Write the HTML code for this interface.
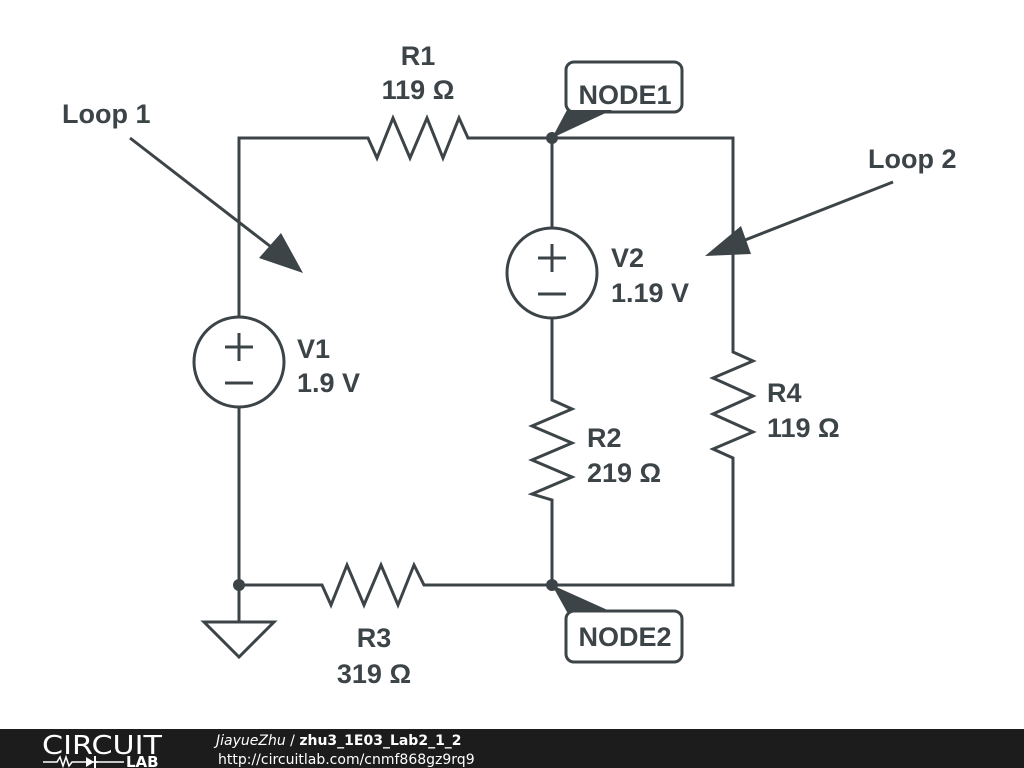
<!DOCTYPE html>
<html><head><style>
html,body{margin:0;padding:0;background:#fff;}
svg{display:block}
text{font-family:"Liberation Sans",sans-serif;font-weight:bold;fill:#3d4448;font-size:27px}
</style></head><body>
<svg width="1024" height="768" viewBox="0 0 1024 768" xmlns="http://www.w3.org/2000/svg">
<g stroke="#3d4448" stroke-width="3" fill="none" stroke-linejoin="miter">
<polyline points="239,318 239,138 368,138 377,158 393,118 410,158 427,118 443,158 459,118 468,138 733,138 733,352 753,361 713,378 753,396 713,414 753,432 713,449 733,458 733,585 552,585"/>
<polyline points="552,138 552,228"/>
<polyline points="552,318 552,400 572,409 532,426 572,443 532,460 572,477 532,494 552,500 552,585"/>
<polyline points="239,407 239,622"/>
<polyline points="239,585 322,585 331,605 347,565 364,605 381,565 398,605 414,565 424,585 552,585"/>
<circle cx="239" cy="362" r="45"/>
<circle cx="552" cy="273" r="45"/>
<line x1="225" y1="347" x2="253" y2="347"/><line x1="239" y1="333" x2="239" y2="361"/>
<line x1="225" y1="383" x2="253" y2="383"/>
<line x1="538" y1="258" x2="566" y2="258"/><line x1="552" y1="244" x2="552" y2="272"/>
<line x1="538" y1="294" x2="566" y2="294"/>
<polygon points="204,622 274,622 239,657"/>
<line x1="130" y1="138" x2="275" y2="250"/>
<line x1="893" y1="182" x2="735" y2="244"/>
<rect x="566" y="62" width="116" height="50" rx="8"/>
<rect x="566" y="611" width="116" height="51" rx="8"/>
</g>
<g fill="#3d4448">
<circle cx="552" cy="138" r="6"/><circle cx="239" cy="585" r="6"/><circle cx="552" cy="585" r="6"/>
<polygon points="303,273 259,258 281,233"/>
<polygon points="705,256 741,226 751,254"/>
<polygon points="552,138 567,110 612,110"/>
<polygon points="552,585 567,612 612,612"/>
</g>
<text x="62" y="123">Loop 1</text>
<text x="868" y="168">Loop 2</text>
<text x="418" y="65" text-anchor="middle">R1</text>
<text x="418" y="99" text-anchor="middle">119 Ω</text>
<text x="625" y="104" text-anchor="middle">NODE1</text>
<text x="625" y="646" text-anchor="middle">NODE2</text>
<text x="297" y="358">V1</text><text x="297" y="392">1.9 V</text>
<text x="611" y="267">V2</text><text x="611" y="302">1.19 V</text>
<text x="587" y="447">R2</text><text x="587" y="482">219 Ω</text>
<text x="767" y="402">R4</text><text x="767" y="437">119 Ω</text>
<text x="374" y="647" text-anchor="middle">R3</text><text x="374" y="683" text-anchor="middle">319 Ω</text>
<rect x="0" y="729" width="1024" height="39" fill="#1c1c1c"/>
<text x="42" y="754" style="font-family:'DejaVu Sans',sans-serif;font-weight:normal;font-size:26px;fill:#fff" textLength="120" lengthAdjust="spacingAndGlyphs">CIRCUIT</text>
<text x="126" y="767" style="font-family:'DejaVu Sans',sans-serif;font-size:15px;fill:#fff">LAB</text>
<polyline points="43,762 57,762 60,757 63,766 66,757 69,766 72,762 98,762" stroke="#fff" stroke-width="1.5" fill="none"/>
<polygon points="86,757 86,767 94,762" fill="#fff"/><line x1="95" y1="756" x2="95" y2="768" stroke="#fff" stroke-width="2"/>
<line x1="95" y1="762" x2="124" y2="762" stroke="#fff" stroke-width="1.5"/>
<text x="216" y="745" style="font-family:'DejaVu Sans',sans-serif;font-weight:normal;font-style:italic;font-size:14px;fill:#fff">JiayueZhu <tspan style="font-style:normal">/</tspan> <tspan style="font-weight:bold;font-style:normal">zhu3_1E03_Lab2_1_2</tspan></text>
<text x="218" y="764" style="font-family:'DejaVu Sans',sans-serif;font-weight:normal;font-size:14px;fill:#fff">http://circuitlab.com/cnmf868gz9rq9</text>
</svg>
</body></html>
